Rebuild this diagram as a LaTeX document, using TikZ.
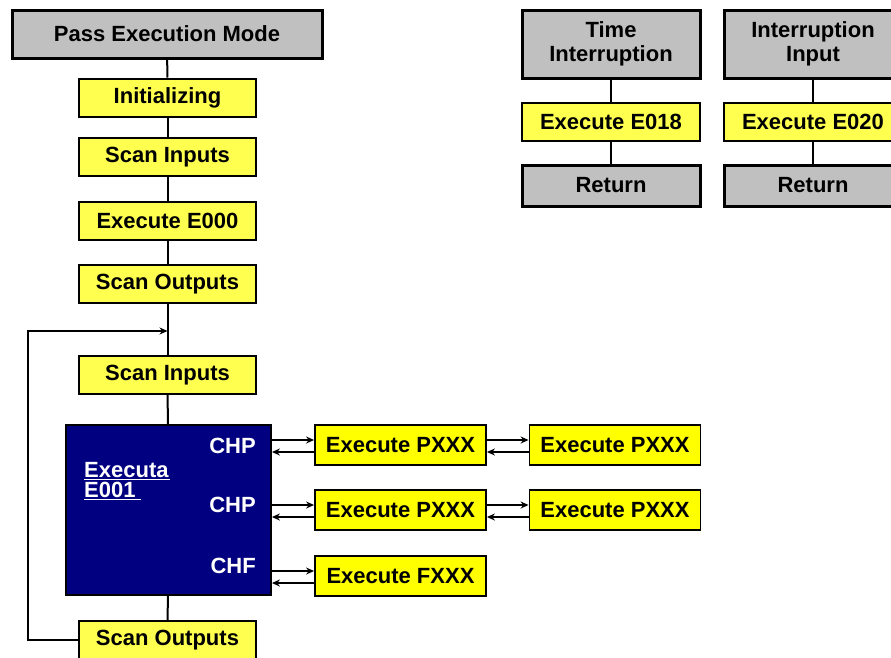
\documentclass[tikz,border=0pt]{standalone}
\usepackage{fontspec}
\setmainfont{Liberation Sans}
\usetikzlibrary{arrows.meta}
\definecolor{boxgray}{HTML}{C0C0C0}
\definecolor{paleyellow}{HTML}{FFFF50}
\definecolor{pureyellow}{HTML}{FFFF00}
\definecolor{navybox}{HTML}{000080}
\tikzset{
  lbl/.style={font=\fontsize{22}{24}\selectfont\bfseries},
  graybox/.style={lbl, draw=black, line width=3pt, fill=boxgray, inner sep=0pt, align=center},
  stepbox/.style={lbl, draw=black, line width=2pt, fill=paleyellow, inner sep=0pt,
                  minimum width=177pt, minimum height=38pt},
  subbox/.style={lbl, draw=black, line width=1.8pt, fill=pureyellow, inner sep=0pt,
                 minimum width=171pt, minimum height=40pt},
  link/.style={draw=black, line width=2pt},
  tip/.style={link, -{Stealth[length=8pt,width=7pt]}},
  chlbl/.style={font=\fontsize{22}{24}\selectfont\bfseries, text=white, anchor=east, inner sep=0pt}
}
\begin{document}
\begin{tikzpicture}[x=1pt,y=-1pt]
\useasboundingbox (0,0) rectangle (891,657);
\fill[white] (0,0) rectangle (891,657);

% main sequence
\node[graybox, minimum width=310pt, minimum height=48pt] (pass) at (167,34) {Pass Execution Mode};
\node[stepbox] (init) at (167.5,97.5) {Initializing};
\node[stepbox] (scanin) at (167.5,157) {Scan Inputs};
\node[stepbox] (e000) at (167.5,221) {Execute E000};
\node[stepbox] (scanout) at (167.5,284) {Scan Outputs};
\node[stepbox] (scanin2) at (167.5,375) {Scan Inputs};
\node[draw=black, line width=1.8pt, fill=navybox, minimum width=205pt, minimum height=170pt, inner sep=0pt] (e001) at (168.5,510) {};
\node[stepbox] (scanout2) at (167.5,640) {Scan Outputs};

% labels inside the E001 block
\node[font=\fontsize{22}{20}\selectfont\bfseries, text=white, anchor=north west, inner sep=0pt, align=left] (e001name) at (84,462)
  {\underline{Executa\kern1pt}\\\underline{E001\kern5pt}};
\node[chlbl] (chp1) at (256,446) {CHP};
\node[chlbl] (chp2) at (256,505) {CHP};
\node[chlbl] (chf) at (256,566) {CHF};

% called routines
\node[subbox] (p1) at (400.5,445) {Execute PXXX};
\node[subbox] (p2) at (615,445) {Execute PXXX};
\node[subbox] (p3) at (400.5,510) {Execute PXXX};
\node[subbox] (p4) at (615,510) {Execute PXXX};
\node[subbox] (f1) at (400.5,576) {Execute FXXX};

% interrupt handlers
\node[graybox, minimum width=178pt, minimum height=68pt] (time) at (611,44) {Time\\Interruption};
\node[stepbox, minimum width=178pt] (e018) at (611,122) {Execute E018};
\node[graybox, minimum width=178pt, minimum height=41pt] (ret1) at (611,185.5) {Return};
\node[graybox, minimum width=178pt, minimum height=68pt] (intin) at (813,44) {Interruption\\Input};
\node[stepbox, minimum width=178pt] (e020) at (813,122) {Execute E020};
\node[graybox, minimum width=178pt, minimum height=41pt] (ret2) at (813,185.5) {Return};

% vertical flow
\draw[link] (pass) -- (init);
\draw[link] (init) -- (scanin);
\draw[link] (scanin) -- (e000);
\draw[link] (e000) -- (scanout);
\draw[link] (scanout) -- (scanin2);
\draw[link] (scanin2) -- (e001);
\draw[link] (e001) -- (scanout2);
\draw[link] (time) -- (e018);
\draw[link] (e018) -- (ret1);
\draw[link] (intin) -- (e020);
\draw[link] (e020) -- (ret2);

% cycle back
\coordinate (join) at (167.5,331);
\coordinate (loopx) at (28,0);
\draw[tip] (scanout2.west) -- (scanout2.west -| loopx) -- (join -| loopx) -- (join);

% calls and returns
\foreach \a/\b in {e001/p1, e001/p3, p1/p2, p3/p4, e001/f1} {
  \draw[tip] ([yshift=5pt]\b.west -| \a.east) -- ([yshift=5pt]\b.west);
  \draw[tip] ([yshift=-7pt]\b.west) -- ([yshift=-7pt]\b.west -| \a.east);
}
\end{tikzpicture}
\end{document}
